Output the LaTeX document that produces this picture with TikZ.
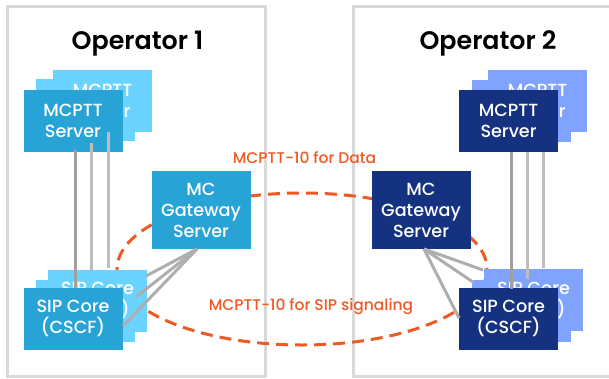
\documentclass[tikz,border=0pt]{standalone}
\usepackage{fontspec}
\setmainfont{Poppins}
\newfontfamily\medfont{Poppins}[UprightFont=* Medium]
\newfontfamily\semifont{Poppins}[UprightFont=* SemiBold]
\usetikzlibrary{calc}
\definecolor{opframe}{HTML}{D9D9D9}
\definecolor{lfront}{HTML}{27A3D6}
\definecolor{lback}{HTML}{6AD3FF}
\definecolor{rfront}{HTML}{14327F}
\definecolor{rback}{HTML}{7FA3FF}
\definecolor{orng}{HTML}{EE5A24}
\definecolor{lnDark}{HTML}{A0A0A0}
\definecolor{lnLight}{HTML}{BDBDBD}
\begin{document}
\begin{tikzpicture}[x=0.75pt,y=-0.75pt,
  box/.style={minimum width=74.25pt, minimum height=46.5pt, inner sep=0pt, align=center, text=white, font=\medfont\fontsize{13.2}{15.75}\selectfont},
  gwbox/.style={box, minimum height=58.5pt},
  lf/.style={box, fill=lfront},
  lb/.style={box, fill=lback},
  rf/.style={box, fill=rfront},
  rb/.style={box, fill=rback},
  frame/.style={draw=opframe, line width=2.25pt},
  title/.style={font=\semifont\fontsize{19}{22}\selectfont, anchor=base},
  lbl/.style={text=orng, font=\medfont\fontsize{11.6}{14}\selectfont},
  dk/.style={draw=lnDark, line width=2.25pt},
  lt/.style={draw=lnLight, line width=2.25pt},
  fan/.style={draw=lnDark!85!white, line width=2.25pt},
  ring/.style={draw=orng, line width=2.25pt, dash pattern=on 9pt off 5.25pt}
]
\useasboundingbox (0,0) rectangle (609,378);
\fill[white] (0,0) rectangle (609,378);
% operator frames
\draw[frame] (7,6.5) rectangle (265,376);
\draw[frame] (353,6.5) rectangle (625,376);
\node[title] (op1) at (137.5,50) {Operator 1};
\node[title] (op2) at (488,50) {Operator 2};
% dashed ellipse
\draw[ring] (302,269) ellipse [x radius=185, y radius=76];
% left MCPTT stack
\node[lb] (lmm) at (85.5,109.5) {};
\node[lb] (lmb) at (102.5,101) {MCPTT\\Server};
\node[lf] (lmf) at (73,121) {MCPTT\\Server};
% left SIP stack
\node[lb] (lsm) at (85.5,311) {};
\node[lb] (lsb) at (97.5,300.5) {SIP Core\\(CSCF)};
\node[lf] (lsf) at (73,318.5) {SIP Core\\(CSCF)};
% left gateway
\node[lf, gwbox] (lgw) at (201,210) {MC\\Gateway\\Server};
% right MCPTT stack
\node[rb] (rmm) at (521,110.5) {};
\node[rb] (rmb) at (537.5,101) {MCPTT\\Server};
\node[rf] (rmf) at (508.5,121) {MCPTT\\Server};
% right SIP stack
\node[rb] (rsm) at (521,311) {};
\node[rb] (rsb) at (533.5,300) {SIP Core\\(CSCF)};
\node[rf] (rsf) at (508.5,318.5) {SIP Core\\(CSCF)};
% right gateway
\node[rf, gwbox] (rgw) at (421,210) {MC\\Gateway\\Server};
% labels
\node[lbl] (ldata) at (304.5,158) {MCPTT-10 for Data};
\node[lbl] (lsip) at (311,307) {MCPTT-10 for SIP signaling};
% connector end points
\coordinate (la1) at (75,150);  \coordinate (lb1) at (75,288);
\coordinate (la2) at (91,143);  \coordinate (lb2) at (91,270);
\coordinate (la3) at (108,132); \coordinate (lb3) at (108,268);
\coordinate (ra1) at (511,152); \coordinate (rb1) at (511,289);
\coordinate (ra2) at (527,152); \coordinate (rb2) at (527,279);
\coordinate (ra3) at (543,152); \coordinate (rb3) at (543,268);
\coordinate (lg) at (197,249);
\coordinate (lg1) at (146,276); \coordinate (lg2) at (136,297); \coordinate (lg3) at (123,326);
\coordinate (rg) at (424,249);
\coordinate (rg1) at (483,270); \coordinate (rg2) at (473,282); \coordinate (rg3) at (459,318);
% vertical links
\draw[dk] (la1) -- (lb1);
\draw[lt] (la2) -- (lb2);
\draw[lt] (la3) -- (lb3);
\draw[dk] (ra1) -- (rb1);
\draw[lt] (ra2) -- (rb2);
\draw[lt] (ra3) -- (rb3);
% gateway fan links
\draw[fan] (lg) -- (lg1);
\draw[fan] (lg) -- (lg2);
\draw[fan] (lg) -- (lg3);
\draw[fan] (rg) -- (rg1);
\draw[fan] (rg) -- (rg2);
\draw[fan] (rg) -- (rg3);
\end{tikzpicture}
\end{document}
